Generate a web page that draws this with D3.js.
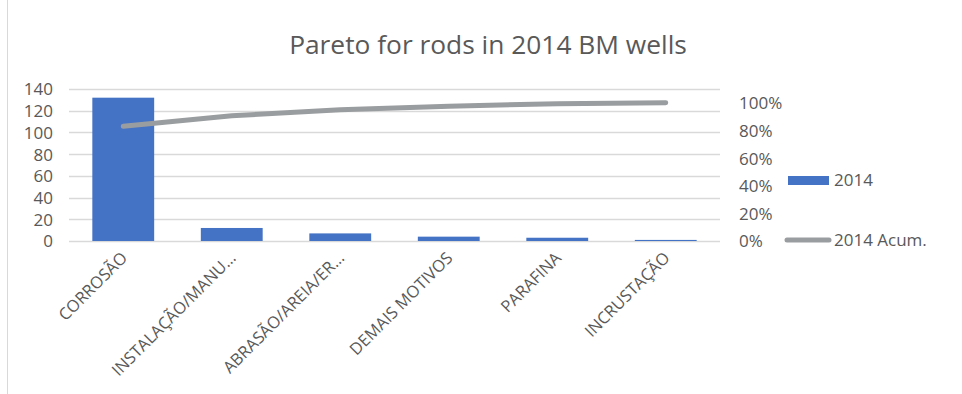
<!DOCTYPE html>
<html><head><meta charset="utf-8">
<script src="https://cdn.jsdelivr.net/npm/d3@7"></script>
<style>html,body{margin:0;padding:0;background:#fff;}svg{display:block;}</style>
</head><body>
<svg id="chart" width="962" height="394"></svg>
<script>
const categories = ["CORROSÃO", "INSTALAÇÃO/MANU…", "ABRASÃO/AREIA/ER…", "DEMAIS MOTIVOS", "PARAFINA", "INCRUSTAÇÃO"];
const values2014 = [132, 12, 7, 4, 3, 1];
const leftTicks = [0, 20, 40, 60, 80, 100, 120, 140];
const rightTicks = [0, 0.2, 0.4, 0.6, 0.8, 1.0];
const seriesNames = ["2014", "2014 Acum."];
const title = "Pareto for rods in 2014 BM wells";

const total = d3.sum(values2014);
const cumulative = d3.cumsum(values2014).map(v => v / total);

const svg = d3.select("#chart");
const W = 962, H = 394;
const plot = {left: 69, right: 720, top: 89, bottom: 241};
const textColor = "#595959";
const font = "'Open Sans', sans-serif";

svg.append("rect").attr("width", W).attr("height", H).attr("fill", "#fff");
svg.append("line").attr("x1", 7.5).attr("x2", 7.5).attr("y1", 0).attr("y2", H)
  .attr("stroke", "#d9d9d9").attr("stroke-width", 1);

const x = d3.scaleBand().domain(categories).range([plot.left, plot.right])
  .paddingInner(0.43).paddingOuter(0.215);
const y = d3.scaleLinear().domain([0, 140]).range([plot.bottom, plot.top]);
const y2 = d3.scaleLinear().domain([0, 1.1]).range([plot.bottom, plot.top]);

// gridlines
svg.append("g").selectAll("line").data(leftTicks).join("line")
  .attr("x1", plot.left).attr("x2", plot.right)
  .attr("y1", d => Math.round(y(d)) + 0.5).attr("y2", d => Math.round(y(d)) + 0.5)
  .attr("stroke", "#d9d9d9").attr("stroke-width", 1.5);

// left axis
const leftAxis = svg.append("g").attr("transform", `translate(${plot.left - 16},0)`)
  .call(d3.axisLeft(y).tickValues(leftTicks).tickSize(0).tickPadding(0));
leftAxis.select(".domain").remove();
leftAxis.selectAll("text").attr("font-family", font).attr("font-size", 17)
  .attr("fill", textColor).attr("dy", "0.35em");

// right axis
const rightAxis = svg.append("g").attr("transform", `translate(${plot.right + 19},0)`)
  .call(d3.axisRight(y2).tickValues(rightTicks).tickSize(0).tickPadding(0).tickFormat(d3.format(".0%")));
rightAxis.select(".domain").remove();
rightAxis.selectAll("text").attr("font-family", font).attr("font-size", 17)
  .attr("fill", textColor).attr("dy", "0.35em");

// bars
svg.append("g").selectAll("rect").data(values2014).join("rect")
  .attr("x", (d, i) => x(categories[i]))
  .attr("width", x.bandwidth())
  .attr("y", d => y(d))
  .attr("height", d => y(0) - y(d))
  .attr("fill", "#4472C4");

// cumulative line
const line = d3.line()
  .x((d, i) => x(categories[i]) + x.bandwidth() / 2)
  .y(d => y2(d));
svg.append("path").datum(cumulative).attr("d", line)
  .attr("fill", "none").attr("stroke", "#9a9d9f").attr("stroke-width", 5)
  .attr("stroke-linecap", "round").attr("stroke-linejoin", "round");

// x labels
svg.append("g").selectAll("text").data(categories).join("text")
  .attr("transform", d => `translate(${x(d) + x.bandwidth() / 2 + 5},${plot.bottom + 18}) rotate(-45)`)
  .attr("text-anchor", "end")
  .attr("font-family", font).attr("font-size", 16.5).attr("fill", textColor)
  .text(d => d);

// title
const t = svg.append("text").attr("x", 488).attr("y", 54).attr("text-anchor", "middle")
  .attr("font-family", font).attr("font-size", 26).attr("fill", textColor).text(title);
const len = t.node().getComputedTextLength();
t.attr("font-size", 26 * 398 / len);

// legend
const lg = svg.append("g");
lg.append("rect").attr("x", 788).attr("y", 176).attr("width", 41).attr("height", 9).attr("fill", "#4472C4");
lg.append("text").attr("x", 834).attr("y", 180).attr("dy", "0.35em")
  .attr("font-family", font).attr("font-size", 17).attr("fill", textColor).text(seriesNames[0]);
lg.append("line").attr("x1", 787).attr("x2", 829).attr("y1", 240).attr("y2", 240)
  .attr("stroke", "#9a9d9f").attr("stroke-width", 5).attr("stroke-linecap", "round");
lg.append("text").attr("x", 834).attr("y", 240).attr("dy", "0.35em")
  .attr("font-family", font).attr("font-size", 17).attr("fill", textColor).text(seriesNames[1]);
</script>
</body></html>
